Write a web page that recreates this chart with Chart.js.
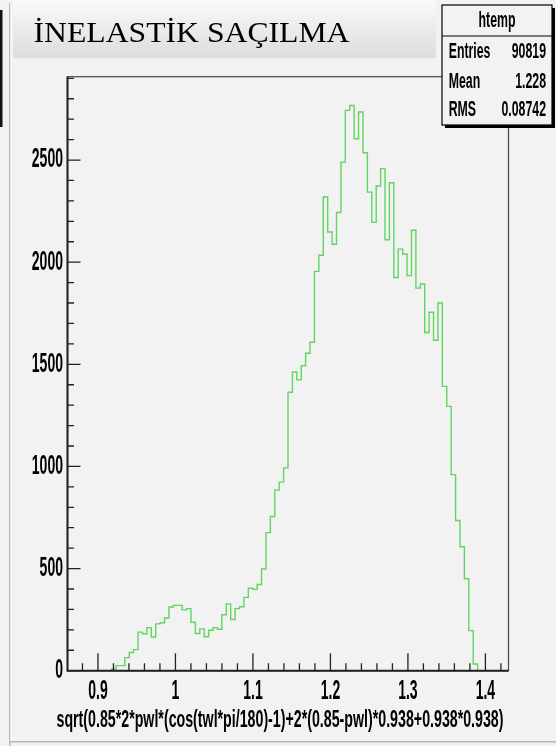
<!DOCTYPE html>
<html><head><meta charset="utf-8">
<script src="https://cdn.jsdelivr.net/npm/chart.js@4.4.1/dist/chart.umd.min.js"></script>
<style>html,body{margin:0;padding:0;background:#f2f2f2;overflow:hidden}canvas{display:block}</style>
</head><body>
<canvas id="c" width="556" height="746"></canvas>
<script>
const chartTitle = 'İNELASTİK SAÇILMA';
const xAxisTitle = 'sqrt(0.85*2*pwl*(cos(twl*pi/180)-1)+2*(0.85-pwl)*0.938+0.938*0.938)';
const histName = 'htemp';
const statLabels = ['Entries', 'Mean', 'RMS'];
const statValues = ['90819', '1.228', '0.08742'];

const xMin = 0.8607;
const xMax = 1.4298;
const binCounts = [
  0, 0, 0, 0, 0, 0, 0, 0, 0, 0,
  8, 25, 25, 64, 89, 103, 189, 181, 211, 165,
  229, 235, 258, 312, 320, 320, 298, 304, 237, 182,
  205, 166, 198, 211, 203, 274, 327, 251, 304, 313,
  359, 404, 398, 422, 498, 676, 755, 884, 923, 993,
  1363, 1462, 1424, 1493, 1554, 1608, 1955, 2034, 2319, 2148,
  2088, 2243, 2490, 2743, 2767, 2604, 2735, 2536, 2343, 2195,
  2373, 2458, 2110, 2389, 1925, 2064, 2040, 1934, 2156, 1873,
  1893, 1656, 1755, 1618, 1800, 1392, 1294, 960, 735, 607,
  450, 196, 33, 0, 0, 0, 0, 0, 0, 0
];

const xMajorTicks = [0.9, 1.0, 1.1, 1.2, 1.3, 1.4];
const xTickLabels = ['0.9', '1', '1.1', '1.2', '1.3', '1.4'];
const xMinorTicks = [0.88, 0.92, 0.94, 0.96, 0.98, 1.02, 1.04, 1.06, 1.08, 1.12, 1.14, 1.16, 1.18,
  1.22, 1.24, 1.26, 1.28, 1.32, 1.34, 1.36, 1.38, 1.42];
const yMax = 2908;
const yMajorTicks = [0, 500, 1000, 1500, 2000, 2500];
const yTickLabels = ['0', '500', '1000', '1500', '2000', '2500'];
const yMinorTicks = [100, 200, 300, 400, 600, 700, 800, 900, 1100, 1200, 1300, 1400, 1600, 1700, 1800, 1900,
  2100, 2200, 2300, 2400, 2600, 2700, 2800, 2900];

const nBins = binCounts.length;
const binW = (xMax - xMin) / nBins;
const histPoints = binCounts.map((v, i) => ({ x: xMin + i * binW, y: v }));
histPoints.push({ x: xMax, y: binCounts[nBins - 1] });

const SANS = '"Liberation Sans", Arial, sans-serif';
function condText(ctx, text, x, y, size, sx, align, weight) {
  ctx.save();
  ctx.font = `${weight || 'bold'} ${size}px ${SANS}`;
  ctx.textBaseline = 'middle';
  ctx.textAlign = align;
  ctx.translate(x, y);
  ctx.scale(sx, 1);
  ctx.fillStyle = '#000';
  ctx.fillText(text, 0, 0);
  ctx.restore();
}

const decor = {
  id: 'decor',
  beforeDraw(chart) {
    const ctx = chart.ctx;
    ctx.save();
    ctx.fillStyle = '#f2f2f2';
    ctx.fillRect(0, 0, 556, 746);
    ctx.fillStyle = '#111';
    ctx.fillRect(0, 10, 2.5, 117);
    ctx.fillStyle = '#b8b8b8';
    ctx.fillRect(9, 3, 1.5, 743);
    ctx.fillRect(10, 741, 546, 1.5);
    ctx.fillStyle = '#ffffff';
    ctx.fillRect(10.5, 3, 1, 738);
    const g = ctx.createLinearGradient(0, 0, 0, 58);
    g.addColorStop(0, '#fafafa');
    g.addColorStop(1, '#dddddd');
    ctx.fillStyle = g;
    ctx.fillRect(13, 0, 423, 58);
    ctx.fillStyle = '#000';
    ctx.font = '30px "Liberation Serif", "Times New Roman", serif';
    ctx.textBaseline = 'alphabetic';
    ctx.textAlign = 'left';
    const w = ctx.measureText(chartTitle).width;
    ctx.translate(33.5, 42);
    ctx.scale(316 / w, 1);
    ctx.fillText(chartTitle, 0, 0);
    ctx.restore();
  },
  afterDatasetsDraw(chart) {
    const ctx = chart.ctx;
    const a = chart.chartArea;
    const xs = chart.scales.x, ys = chart.scales.y;
    ctx.save();
    ctx.strokeStyle = '#444';
    ctx.lineWidth = 1.2;
    ctx.strokeRect(a.left, a.top, a.right - a.left, a.bottom - a.top);
    ctx.strokeStyle = '#222';
    ctx.lineWidth = 2;
    ctx.beginPath();
    ctx.moveTo(a.left, a.top); ctx.lineTo(a.left, a.bottom); ctx.lineTo(a.right, a.bottom);
    ctx.stroke();
    ctx.lineWidth = 1.3;
    ctx.strokeStyle = '#222';
    ctx.beginPath();
    xMajorTicks.forEach(v => { const p = xs.getPixelForValue(v); ctx.moveTo(p, a.bottom); ctx.lineTo(p, a.bottom - 17.5); });
    xMinorTicks.forEach(v => { const p = xs.getPixelForValue(v); ctx.moveTo(p, a.bottom); ctx.lineTo(p, a.bottom - 7.5); });
    yMajorTicks.forEach(v => { const p = ys.getPixelForValue(v); ctx.moveTo(a.left, p); ctx.lineTo(a.left + 13, p); });
    yMinorTicks.forEach(v => { const p = ys.getPixelForValue(v); ctx.moveTo(a.left, p); ctx.lineTo(a.left + 6.5, p); });
    ctx.stroke();
    xMajorTicks.forEach((v, i) => condText(ctx, xTickLabels[i], xs.getPixelForValue(v), 692, 27, 0.52, 'center'));
    yMajorTicks.forEach((v, i) => condText(ctx, yTickLabels[i], a.left - 4.5, ys.getPixelForValue(v), 27, 0.52, 'right'));
    ctx.font = `bold 23px ${SANS}`;
    const tw = ctx.measureText(xAxisTitle).width;
    condText(ctx, xAxisTitle, 503.5, 721, 23, 447 / tw, 'right');
    ctx.fillStyle = '#000';
    ctx.fillRect(445, 8, 110, 120);
    ctx.fillStyle = '#f2f2f2';
    ctx.fillRect(442, 5, 110, 120);
    ctx.strokeStyle = '#000';
    ctx.lineWidth = 1.2;
    ctx.strokeRect(442, 5, 110, 120);
    ctx.beginPath(); ctx.moveTo(442, 36); ctx.lineTo(552, 36); ctx.stroke();
    condText(ctx, histName, 497, 21, 22, 0.56, 'center');
    const rowY = [52, 82, 110];
    statLabels.forEach((s, i) => condText(ctx, s, 448.7, rowY[i], 22, 0.56, 'left'));
    statValues.forEach((s, i) => condText(ctx, s, 546, rowY[i], 22, 0.56, 'right'));
    ctx.restore();
  }
};

new Chart(document.getElementById('c'), {
  type: 'line',
  data: {
    datasets: [{
      data: histPoints,
      stepped: true,
      borderColor: '#62d462',
      borderWidth: 1.4,
      pointRadius: 0,
      fill: false,
      tension: 0
    }]
  },
  options: {
    responsive: false,
    devicePixelRatio: 1,
    animation: false,
    layout: { padding: { left: 67.5, right: 47.5, top: 76.7, bottom: 75.3 } },
    plugins: { legend: { display: false }, title: { display: false }, tooltip: { enabled: false } },
    scales: {
      x: { type: 'linear', min: xMin, max: xMax, display: false },
      y: { type: 'linear', min: 0, max: yMax, display: false }
    }
  },
  plugins: [decor]
});
</script>
</body></html>
